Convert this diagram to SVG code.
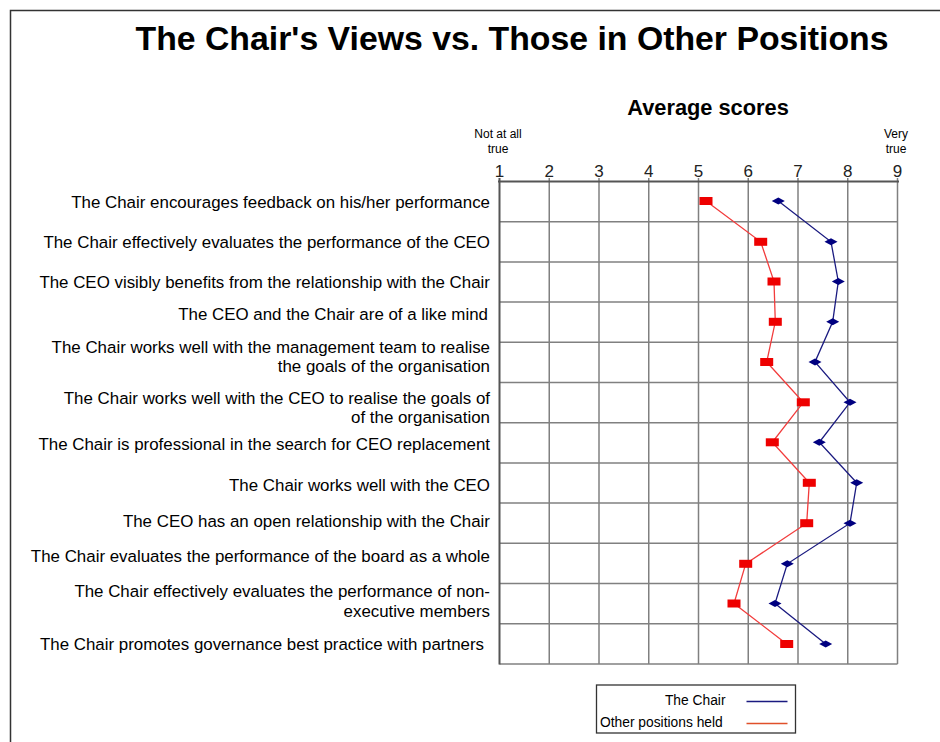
<svg xmlns="http://www.w3.org/2000/svg" width="940" height="742" viewBox="0 0 940 742">
<style>
text{font-family:"Liberation Sans",Arial,sans-serif;fill:#000}
.title{font-size:33.8px;font-weight:bold}
.sub{font-size:21.8px;font-weight:bold}
.tick{font-size:17px;text-anchor:middle;fill:#222}
.end{font-size:12px;text-anchor:middle}
.lbl{font-size:16.9px;text-anchor:end}
.leg{font-size:13.8px}
.grid line{stroke:#808080;stroke-width:1.5}
.frame{stroke:#333;stroke-width:1.5;fill:none}
.red{fill:none;stroke:#f23c3c;stroke-width:1.3}
.blue{fill:none;stroke:#1a1a80;stroke-width:1.3}
</style>
<defs>
<rect id="mr" x="-6.5" y="-4" width="13" height="8" fill="#ee0000"/>
<path id="mb" d="M-6.5,0 L0,-3.5 L6.5,0 L0,3.5 Z" fill="#000080"/>
</defs>
<rect width="940" height="742" fill="#fff"/>
<path class="frame" d="M940,10.5 H10.5 V742"/>
<g id="title"><text class="title" x="512" y="50" text-anchor="middle">The Chair's Views vs. Those in Other Positions</text></g>
<g id="subtitle"><text class="sub" x="708" y="115" text-anchor="middle">Average scores</text></g>
<g id="axis-ends">
<text class="end" x="498" y="138">Not at all</text>
<text class="end" x="498" y="153">true</text>
<text class="end" x="896" y="138">Very</text>
<text class="end" x="896" y="153">true</text>
</g>
<g id="ticks">
<text class="tick" x="499.5" y="177">1</text>
<text class="tick" x="549.25" y="177">2</text>
<text class="tick" x="599" y="177">3</text>
<text class="tick" x="648.75" y="177">4</text>
<text class="tick" x="698.5" y="177">5</text>
<text class="tick" x="748.25" y="177">6</text>
<text class="tick" x="798" y="177">7</text>
<text class="tick" x="847.75" y="177">8</text>
<text class="tick" x="897.5" y="177">9</text>
</g>
<g id="grid" class="grid">
<line x1="549.25" y1="178" x2="549.25" y2="664"/>
<line x1="599" y1="178" x2="599" y2="664"/>
<line x1="648.75" y1="178" x2="648.75" y2="664"/>
<line x1="698.5" y1="178" x2="698.5" y2="664"/>
<line x1="748.25" y1="178" x2="748.25" y2="664"/>
<line x1="798" y1="178" x2="798" y2="664"/>
<line x1="847.75" y1="178" x2="847.75" y2="664"/>
<line x1="897.5" y1="178" x2="897.5" y2="664"/>
<line x1="499.5" y1="221.7" x2="897.5" y2="221.7"/>
<line x1="499.5" y1="261.9" x2="897.5" y2="261.9"/>
<line x1="499.5" y1="302.1" x2="897.5" y2="302.1"/>
<line x1="499.5" y1="342.3" x2="897.5" y2="342.3"/>
<line x1="499.5" y1="382.5" x2="897.5" y2="382.5"/>
<line x1="499.5" y1="422.7" x2="897.5" y2="422.7"/>
<line x1="499.5" y1="462.9" x2="897.5" y2="462.9"/>
<line x1="499.5" y1="503.1" x2="897.5" y2="503.1"/>
<line x1="499.5" y1="543.3" x2="897.5" y2="543.3"/>
<line x1="499.5" y1="583.5" x2="897.5" y2="583.5"/>
<line x1="499.5" y1="623.7" x2="897.5" y2="623.7"/>
<line x1="499.5" y1="663.9" x2="897.5" y2="663.9"/>
<line x1="498" y1="181.5" x2="899" y2="181.5" style="stroke:#555;stroke-width:2"/>
<line x1="499.5" y1="178" x2="499.5" y2="664.5" style="stroke:#555;stroke-width:2"/>
</g>
<g id="labels">
<text class="lbl" x="490" y="208">The Chair encourages feedback on his/her performance</text>
<text class="lbl" x="490" y="248">The Chair effectively evaluates the performance of the CEO</text>
<text class="lbl" x="490" y="288">The CEO visibly benefits from the relationship with the Chair</text>
<text class="lbl" x="488" y="319.5">The CEO and the Chair are of a like mind</text>
<text class="lbl" x="490" y="353">The Chair works well with the management team to realise</text>
<text class="lbl" x="490" y="372">the goals of the organisation</text>
<text class="lbl" x="490" y="403.5">The Chair works well with the CEO to realise the goals of</text>
<text class="lbl" x="490" y="422.5">of the organisation</text>
<text class="lbl" x="490" y="450">The Chair is professional in the search for CEO replacement</text>
<text class="lbl" x="490" y="490.5">The Chair works well with the CEO</text>
<text class="lbl" x="490" y="526.5">The CEO has an open relationship with the Chair</text>
<text class="lbl" x="490" y="562">The Chair evaluates the performance of the board as a whole</text>
<text class="lbl" x="490" y="597">The Chair effectively evaluates the performance of non-</text>
<text class="lbl" x="490" y="617">executive members</text>
<text class="lbl" x="484" y="650">The Chair promotes governance best practice with partners</text>
</g>
<g id="connectors">
<polyline class="red" points="706,201 760.7,241.8 774,281.5 775.3,321.8 766.7,362 803.3,402.3 772.3,442.3 809.3,482.8 806.7,523.2 745.7,563.8 734,603.5 786.7,644"/>
<polyline class="blue" points="778.3,201 831,241.8 838.3,281.5 832.7,321.8 815,362 850,402.3 819.3,442.3 856.7,482.8 850,523.2 787.3,563.8 775,603.5 825.7,644"/>
</g>
<g id="series-other">
<use href="#mr" x="706" y="201"/>
<use href="#mr" x="760.7" y="241.8"/>
<use href="#mr" x="774" y="281.5"/>
<use href="#mr" x="775.3" y="321.8"/>
<use href="#mr" x="766.7" y="362"/>
<use href="#mr" x="803.3" y="402.3"/>
<use href="#mr" x="772.3" y="442.3"/>
<use href="#mr" x="809.3" y="482.8"/>
<use href="#mr" x="806.7" y="523.2"/>
<use href="#mr" x="745.7" y="563.8"/>
<use href="#mr" x="734" y="603.5"/>
<use href="#mr" x="786.7" y="644"/>
</g>
<g id="series-chair">
<use href="#mb" x="778.3" y="201"/>
<use href="#mb" x="831" y="241.8"/>
<use href="#mb" x="838.3" y="281.5"/>
<use href="#mb" x="832.7" y="321.8"/>
<use href="#mb" x="815" y="362"/>
<use href="#mb" x="850" y="402.3"/>
<use href="#mb" x="819.3" y="442.3"/>
<use href="#mb" x="856.7" y="482.8"/>
<use href="#mb" x="850" y="523.2"/>
<use href="#mb" x="787.3" y="563.8"/>
<use href="#mb" x="775" y="603.5"/>
<use href="#mb" x="825.7" y="644"/>
</g>
<g id="legend">
<rect x="596.5" y="685" width="199" height="48" fill="#fff" stroke="#333" stroke-width="1.3"/>
<text class="leg" x="725.5" y="705" text-anchor="end">The Chair</text>
<line x1="746.5" y1="701.5" x2="787.5" y2="701.5" stroke="#1a1a80" stroke-width="1.3"/>
<text class="leg" x="600" y="727">Other positions held</text>
<line x1="746.5" y1="723.5" x2="787.5" y2="723.5" stroke="#e0502a" stroke-width="1.3"/>
</g>
</svg>
